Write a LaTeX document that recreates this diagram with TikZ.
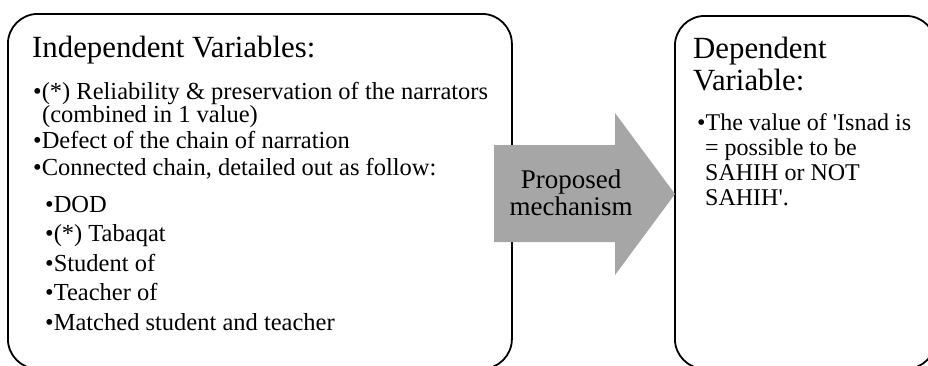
\documentclass[tikz,border=0pt]{standalone}
\usepackage{fontspec}
\setmainfont{Liberation Serif}
\usepackage{tikz}
\usetikzlibrary{positioning}
\definecolor{arrowgray}{HTML}{A6A6A6}

\begin{document}
\begin{tikzpicture}[
  x=1pt,y=-1pt,
  panel/.style={draw,line width=1.8pt,rounded corners=30pt,anchor=north west,
    inner sep=0pt},
  head/.style={anchor=base west,inner sep=0pt,font=\fontsize{30.8}{32}\selectfont},
  item/.style={anchor=base west,inner sep=0pt,font=\fontsize{24.5}{20}\selectfont},
  ditem/.style={item,font=\fontsize{24}{25}\selectfont},
  mechtext/.style={align=center,inner sep=0pt,font=\fontsize{27}{27}\selectfont},
]
  \useasboundingbox (0,0) rectangle (928,365);
  \clip (0,0) rectangle (928,365);

  \node[panel,minimum width=504pt,minimum height=355pt] (indep) at (7,13) {};
  \node[panel,minimum width=261pt,minimum height=353pt] (dep) at (674,15) {};

  % left panel
  \node[head] (indeptitle) at (32,57) {Independent Variables:};
  \node[item] (reliab) at (33,99)
    {\textbullet(*) Reliability \& preservation of the narrators};
  \node[item] (reliabcont) at (42,122.5) {(combined in 1 value)};
  \node[item] (defect) at (33,148.5) {\textbullet Defect of the chain of narration};
  \node[item] (chain) at (33,175)
    {\textbullet Connected chain, detailed out as follow:};
  \foreach \y/\name/\txt in {212/dod/DOD, 241.5/tabaqat/{(*) Tabaqat},
      271/student/Student of, 300.5/teacher/Teacher of,
      330/matched/Matched student and teacher}
    \node[item] (\name) at (45,\y) {\textbullet\txt};

  % block arrow
  \fill[arrowgray] (494,145) -- (615,145) -- (615,113) -- (675,194)
    -- (615,275) -- (615,242) -- (494,242) -- cycle;
  \node[mechtext] (mech) at (571,192.5) {Proposed\\mechanism};

  % right panel
  \node[head] (deptitle) at (693,58) {Dependent};
  \node[head] (deptitlecont) at (693,90) {Variable:};
  \node[ditem] (isnad) at (697,130)
    {\textbullet The value of \textquotesingle Isnad is};
  \node[ditem] (isnadb) at (705,155) {= possible to be};
  \node[ditem] (isnadc) at (705,180) {SAHIH or NOT};
  \node[ditem] (isnadd) at (705,205) {SAHIH\textquotesingle.};
\end{tikzpicture}
\end{document}
